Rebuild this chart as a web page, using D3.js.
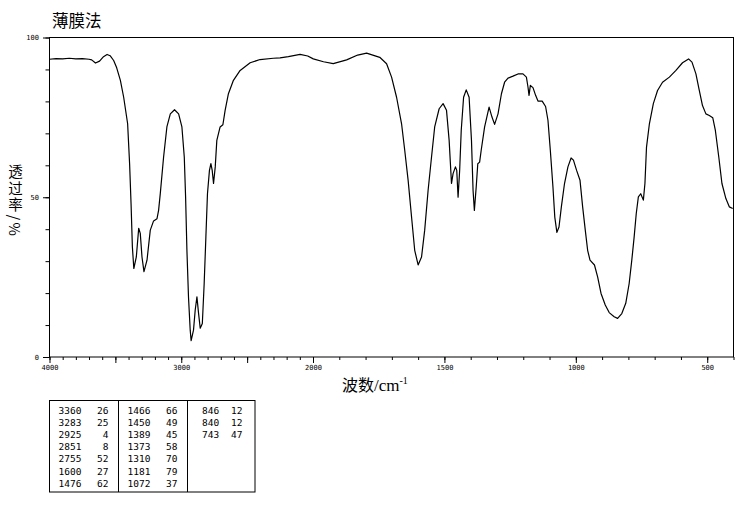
<!DOCTYPE html>
<html>
<head>
<meta charset="utf-8">
<script src="https://cdn.jsdelivr.net/npm/d3@7"></script>
<style>
  html, body { margin: 0; padding: 0; background: #fff; }
  svg { display: block; }
</style>
</head>
<body>
<svg id="chart" width="738" height="510"></svg>
<script>
// ---- data ----
const wavenumbers = [4000, 3950, 3900, 3850, 3800, 3750, 3700, 3680, 3651, 3620, 3590, 3563, 3540, 3513, 3490, 3462, 3437, 3407, 3392, 3381, 3371, 3360, 3341, 3323, 3311, 3298, 3283, 3260, 3235, 3210, 3184, 3172, 3159, 3134, 3109, 3083, 3051, 3020, 2995, 2977, 2967, 2957, 2945, 2932, 2925, 2907, 2894, 2881, 2869, 2856, 2840, 2826, 2813, 2801, 2786, 2775, 2765, 2755, 2742, 2730, 2705, 2684, 2667, 2642, 2604, 2553, 2477, 2402, 2301, 2250, 2187, 2098, 2040, 1999, 1960, 1923, 1872, 1830, 1796, 1746, 1720, 1701, 1682, 1663, 1651, 1638, 1625, 1613, 1600, 1587, 1575, 1562, 1549, 1537, 1520, 1505, 1492, 1482, 1473, 1467, 1458, 1453, 1448, 1442, 1436, 1427, 1417, 1406, 1397, 1391, 1386, 1379, 1373, 1366, 1360, 1347, 1330, 1319, 1309, 1296, 1283, 1271, 1258, 1239, 1220, 1201, 1188, 1182, 1178, 1173, 1163, 1153, 1144, 1128, 1115, 1106, 1097, 1087, 1080, 1072, 1064, 1055, 1043, 1030, 1018, 1009, 997, 984, 974, 964, 955, 946, 929, 917, 904, 888, 873, 854, 841, 825, 810, 797, 787, 778, 770, 762, 753, 743, 737, 731, 720, 705, 689, 670, 644, 619, 594, 571, 558, 543, 530, 518, 505, 492, 479, 469, 456, 444, 429, 416, 403];
const transmittance = [93.2, 93.4, 93.3, 93.5, 93.3, 93.4, 93.2, 93.0, 92.0, 92.6, 94.0, 94.7, 94.3, 92.8, 90.5, 86.6, 81.3, 73.0, 60.5, 48.0, 34.5, 27.7, 31.3, 40.3, 38.7, 31.3, 26.7, 30.3, 39.7, 42.6, 43.3, 45.9, 51.2, 62.6, 72.0, 76.1, 77.4, 76.1, 72.0, 62.6, 50.1, 33.4, 18.8, 8.4, 5.1, 8.4, 14.7, 18.8, 13.8, 9.0, 10.5, 23.0, 37.6, 51.1, 58.4, 60.5, 58.4, 54.3, 59.5, 67.8, 72.0, 72.7, 77.2, 82.4, 86.6, 89.7, 92.1, 93.1, 93.5, 93.6, 94.0, 94.7, 94.2, 93.3, 92.4, 91.8, 93.0, 94.5, 95.1, 93.8, 91.8, 87.6, 81.3, 73.0, 64.7, 55.3, 43.8, 33.4, 28.8, 31.3, 39.7, 52.2, 62.6, 72.0, 77.7, 79.3, 77.2, 67.8, 54.3, 57.4, 59.5, 58.4, 50.0, 58.4, 70.9, 81.3, 83.6, 81.3, 67.8, 52.2, 45.9, 53.2, 60.5, 61.0, 64.7, 72.0, 78.2, 75.1, 72.8, 76.1, 82.4, 86.0, 87.3, 87.9, 88.6, 88.6, 87.6, 84.5, 81.9, 85.0, 84.3, 81.9, 80.1, 80.1, 78.4, 74.1, 64.7, 53.2, 43.8, 39.0, 40.7, 47.0, 54.3, 59.5, 62.3, 61.6, 58.4, 55.3, 47.0, 39.7, 33.4, 30.3, 28.8, 25.1, 19.9, 16.3, 13.9, 12.6, 12.1, 13.6, 16.8, 23.0, 30.3, 37.6, 44.9, 50.1, 51.1, 49.1, 54.3, 65.7, 73.0, 79.3, 83.4, 86.0, 87.6, 89.7, 92.1, 93.3, 92.3, 88.6, 83.4, 78.7, 76.1, 75.6, 74.9, 70.9, 62.6, 54.3, 49.6, 47.0, 46.5];

const xTickLabels = [4000, 3000, 2000, 1500, 1000, 500];
const yTickLabels = [0, 50, 100];

// peak table: three columns
const peakCol1 = [[3360, 26], [3283, 25], [2925, 4], [2851, 8], [2755, 52], [1600, 27], [1476, 62]];
const peakCol2 = [[1466, 66], [1450, 49], [1389, 45], [1373, 58], [1310, 70], [1181, 79], [1072, 37]];
const peakCol3 = [[846, 12], [840, 12], [743, 47]];

const titleText = "薄膜法";
const yLabelText = "透过率/%";

// ---- layout ----
const svg = d3.select("#chart");
const L = 49.5, R = 733.5, T = 37.5, B = 357;
const x = d3.scaleLinear().domain([4000, 2000, 400]).range([L, 313, R]);
const y = d3.scaleLinear().domain([0, 100]).range([B, T]);
const tickFont = "'DejaVu Sans Mono', monospace";

// title
svg.append("text").attr("x", 52).attr("y", 26.5)
  .attr("font-family", "'Noto Sans CJK SC', sans-serif").attr("font-size", 16.5)
  .attr("fill", "#000").text(titleText);

// frame
svg.append("rect").attr("x", L).attr("y", T).attr("width", R - L).attr("height", B - T)
  .attr("fill", "none").attr("stroke", "#000").attr("stroke-width", 1);

// x axis minor ticks
const minorX = d3.range(4000, 399, -100);
svg.append("g").attr("transform", `translate(0,${B})`)
  .call(d3.axisBottom(x).tickValues(minorX).tickSize(3).tickFormat(""))
  .call(g => g.select(".domain").remove());
// x axis major ticks with labels
const majorX = d3.range(4000, 499, -500);
svg.append("g").attr("transform", `translate(0,${B})`)
  .call(d3.axisBottom(x).tickValues(majorX).tickSize(6).tickPadding(2.5)
    .tickFormat(d => xTickLabels.includes(d) ? d : ""))
  .call(g => g.select(".domain").remove())
  .call(g => g.selectAll("text").attr("font-family", tickFont).attr("font-size", 7).attr("fill", "#000"));

// y axis minor ticks
svg.append("g").attr("transform", `translate(${L},0)`)
  .call(d3.axisLeft(y).tickValues(d3.range(0, 101, 10)).tickSize(4).tickFormat(""))
  .call(g => g.select(".domain").remove());
svg.append("g").attr("transform", `translate(${L},0)`)
  .call(d3.axisLeft(y).tickValues(yTickLabels).tickSize(6.5).tickPadding(4))
  .call(g => g.select(".domain").remove())
  .call(g => g.selectAll("text").attr("font-family", tickFont).attr("font-size", 7).attr("fill", "#000"));

// y label (vertical writing)
svg.append("text").attr("x", 15.5).attr("y", 164)
  .attr("font-family", "'Noto Sans CJK SC', sans-serif").attr("font-size", 14.5)
  .attr("letter-spacing", 2.3)
  .style("writing-mode", "vertical-rl")
  .attr("fill", "#000").text(yLabelText);

// x label
const xl = svg.append("text").attr("x", 342).attr("y", 391).attr("fill", "#000");
xl.append("tspan").attr("font-family", "'Noto Sans CJK SC', sans-serif").attr("font-size", 16).text("波数");
xl.append("tspan").attr("font-family", "'Liberation Serif', serif").attr("font-size", 17).text("/cm");
xl.append("tspan").attr("font-family", "'Liberation Serif', serif").attr("font-size", 10).attr("dy", -7).text("-1");

// spectrum
const pts = wavenumbers.map((w, i) => [w, transmittance[i]]);
svg.append("path").datum(pts)
  .attr("fill", "none").attr("stroke", "#000").attr("stroke-width", 1.2)
  .attr("stroke-linejoin", "round")
  .attr("d", d3.line().x(d => x(d[0])).y(d => y(d[1])));

// peak table
const tb = svg.append("g");
tb.append("rect").attr("x", 49.5).attr("y", 400.5).attr("width", 205.5).attr("height", 91.5)
  .attr("fill", "none").attr("stroke", "#000").attr("stroke-width", 1);
[118.5, 187.5].forEach(xx => tb.append("line").attr("x1", xx).attr("x2", xx).attr("y1", 400.5).attr("y2", 492)
  .attr("stroke", "#000").attr("stroke-width", 1));
const cols = [[peakCol1, 58.5, 108.5], [peakCol2, 127.5, 177.5], [peakCol3, 202, 242.5]];
cols.forEach(([rows, xw, xi]) => {
  rows.forEach((r, i) => {
    const yy = 413.5 + i * 12.2;
    tb.append("text").attr("x", xw).attr("y", yy).attr("font-family", tickFont).attr("font-size", 9.5).text(r[0]);
    tb.append("text").attr("x", xi).attr("y", yy).attr("text-anchor", "end").attr("font-family", tickFont).attr("font-size", 9.5).text(r[1]);
  });
});
</script>
</body>
</html>
